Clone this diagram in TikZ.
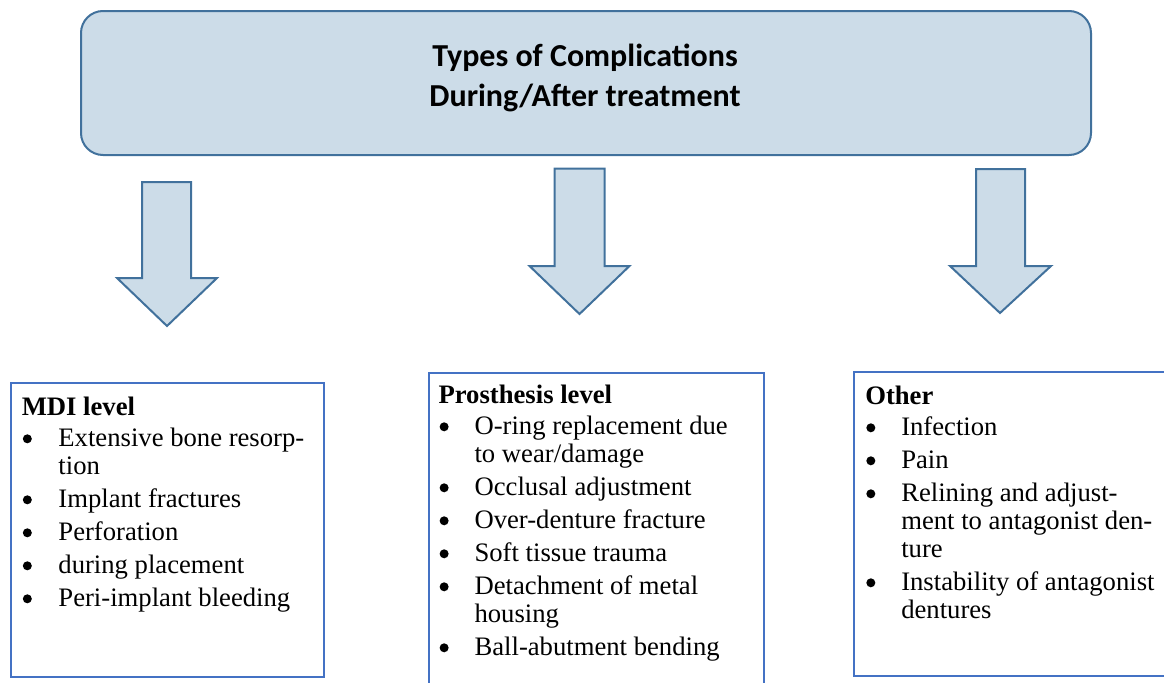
\documentclass[tikz,border=0pt]{standalone}
\usepackage{fontspec}
\setmainfont{Liberation Serif}
\newfontfamily\titlefont{Carlito}
\definecolor{edgeblue}{HTML}{41719C}
\definecolor{fillblue}{HTML}{CCDCE8}
\definecolor{boxblue}{HTML}{4472C4}
\tikzset{
  titlebox/.style={draw=edgeblue, fill=fillblue, line width=1.5pt, rounded corners=16.5pt,
    inner sep=0pt, anchor=north west},
  blockarrow/.style={draw=edgeblue, fill=fillblue, line width=1.5pt, line join=miter},
  listbox/.style={draw=boxblue, line width=1.6pt, inner sep=0pt, anchor=north west},
  listtext/.style={inner sep=0pt, anchor=base west, font=\fontsize{20}{21}\selectfont},
  titletext/.style={inner sep=0pt, anchor=base, font=\titlefont\bfseries\fontsize{24}{29.5}\selectfont}
}
\newcommand{\itemgap}{\\[3.75pt]}
\newcommand{\headgap}{\\[2.25pt]}
\newcommand{\listhead}[1]{\multicolumn{2}{@{}l@{}}{\textbf{#1}}}
\newcommand{\bul}{\hspace*{0.8pt}\tikz[baseline=0pt, x=1pt, y=1pt]\fill (3.375,5.4) circle (3.375pt);}
\begin{document}
\begin{tikzpicture}[x=0.75pt, y=-0.75pt]
\useasboundingbox (0,0) rectangle (1164,682);

% title
\node[titlebox, minimum width=757.5pt, minimum height=108pt] (title) at (80,10) {};
\node[titletext] (titlelabel) at (585,66.7)
  {\begin{tabular}[t]{@{}c@{}}Types of Complications\\During/After treatment\end{tabular}};

% block arrows
\draw[blockarrow] (142,182) -- (191,182) -- (191,278) -- (217,278) -- (167,326) -- (117,278) -- (142,278) -- cycle;
\draw[blockarrow] (554.5,168.5) -- (604.5,168.5) -- (604.5,266) -- (629.5,266) -- (579.5,314) -- (529.5,266) -- (554.5,266) -- cycle;
\draw[blockarrow] (976,169) -- (1025,169) -- (1025,266) -- (1051,266) -- (1000,313) -- (950,266) -- (976,266) -- cycle;

% boxes
\node[listbox, minimum width=235pt, minimum height=220.5pt] (mdi) at (10,382) {};
\node[listbox, minimum width=251.25pt, minimum height=240pt] (pros) at (427.5,372) {};
\node[listbox, minimum width=250pt, minimum height=228pt] (other) at (853,371) {};

\node[listtext] (mditext) at (21.5,415) {\begin{tabular}[t]{@{}p{27.5pt}@{}l@{}}
\listhead{MDI level}\headgap
\bul & Extensive bone resorp-\\
 & tion\itemgap
\bul & Implant fractures\itemgap
\bul & Perforation\itemgap
\bul & during placement\itemgap
\bul & Peri-implant bleeding
\end{tabular}};

\node[listtext] (prostext) at (438.3,403) {\begin{tabular}[t]{@{}p{27pt}@{}l@{}}
\listhead{Prosthesis level}\headgap
\bul & O-ring replacement due\\
 & to wear/damage\itemgap
\bul & Occlusal adjustment\itemgap
\bul & Over-denture fracture\itemgap
\bul & Soft tissue trauma\itemgap
\bul & Detachment of metal\\
 & housing\itemgap
\bul & Ball-abutment bending
\end{tabular}};

\node[listtext] (othertext) at (865,404) {\begin{tabular}[t]{@{}p{27pt}@{}l@{}}
\listhead{Other}\headgap
\bul & Infection\itemgap
\bul & Pain\itemgap
\bul & Relining and adjust-\\
 & ment to antagonist den-\\
 & ture\itemgap
\bul & Instability of antagonist\\
 & dentures
\end{tabular}};
\end{tikzpicture}
\end{document}
